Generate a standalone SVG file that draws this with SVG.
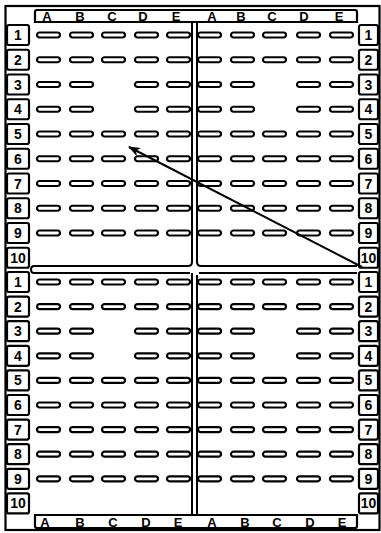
<svg xmlns="http://www.w3.org/2000/svg" width="381" height="533" viewBox="0 0 381 533">
<defs>
<style>
.fr{fill:none;stroke:#000;stroke-width:2.2}
.ln{fill:none;stroke:#000;stroke-width:2}
.lb{fill:#fff;stroke:#000;stroke-width:2.2}
.d{fill:#fff;stroke:#000;stroke-width:2.2}
.t{font-family:"Liberation Sans",Arial,sans-serif;font-weight:bold;font-size:14px;text-anchor:middle;fill:#000}
.h{font-family:"Liberation Sans",Arial,sans-serif;font-weight:bold;font-size:13px;text-anchor:middle;fill:#000}
</style>
<rect id="dash" width="23" height="5" rx="2.5"/>
<marker id="ah" markerWidth="12" markerHeight="9" refX="11" refY="4.5" orient="auto" markerUnits="userSpaceOnUse">
<path d="M0,0 L12,4.5 L0,9 L3,4.5 Z" fill="#000"/>
</marker>
</defs>
<rect width="381" height="533" fill="#fff"/>
<g id="frame">
<rect class="fr" x="5.5" y="6" width="374" height="524"/>
<path class="fr" d="M35,22 V12 Q35,10 37,10 H355 Q357,10 357,12 V22 Z"/>
<path class="fr" d="M35,515 V526 Q35,528 37,528 H355 Q357,528 357,526 V515 Z"/>
<path class="ln" d="M192,22 V262 Q192,266 188,266 H34 Q31,266 31,269.5 Q31,273 34,273 H190 M192,273 V515"/>
<path class="ln" d="M197,22 V262 Q197,266 201,266 H357 M199,273 H357 M197,275 V515"/>
</g>
<g id="header-top">
<text class="h" x="47" y="21">A</text><text class="h" x="80" y="21">B</text><text class="h" x="112" y="21">C</text><text class="h" x="143" y="21">D</text><text class="h" x="176" y="21">E</text>
<text class="h" x="212" y="21">A</text><text class="h" x="241" y="21">B</text><text class="h" x="272" y="21">C</text><text class="h" x="304" y="21">D</text><text class="h" x="339" y="21">E</text>
</g>
<g id="header-bottom">
<text class="h" x="45" y="527">A</text><text class="h" x="80" y="527">B</text><text class="h" x="113" y="527">C</text><text class="h" x="146" y="527">D</text><text class="h" x="178" y="527">E</text>
<text class="h" x="212" y="527">A</text><text class="h" x="245" y="527">B</text><text class="h" x="277" y="527">C</text><text class="h" x="310" y="527">D</text><text class="h" x="342" y="527">E</text>
</g>
<g id="row-labels-left">
<rect class="lb" x="7" y="25" width="22" height="20" rx="2"/><text class="t" x="18" y="40">1</text>
<rect class="lb" x="7" y="49.75" width="22" height="20" rx="2"/><text class="t" x="18" y="64.75">2</text>
<rect class="lb" x="7" y="74.5" width="22" height="20" rx="2"/><text class="t" x="18" y="89.5">3</text>
<rect class="lb" x="7" y="99.25" width="22" height="20" rx="2"/><text class="t" x="18" y="114.25">4</text>
<rect class="lb" x="7" y="124" width="22" height="20" rx="2"/><text class="t" x="18" y="139">5</text>
<rect class="lb" x="7" y="148.75" width="22" height="20" rx="2"/><text class="t" x="18" y="163.75">6</text>
<rect class="lb" x="7" y="173.5" width="22" height="20" rx="2"/><text class="t" x="18" y="188.5">7</text>
<rect class="lb" x="7" y="198.25" width="22" height="20" rx="2"/><text class="t" x="18" y="213.25">8</text>
<rect class="lb" x="7" y="223" width="22" height="20" rx="2"/><text class="t" x="18" y="238">9</text>
<rect class="lb" x="7" y="247.75" width="22" height="20" rx="2"/><text class="t" x="18" y="262.75">10</text>
<rect class="lb" x="7" y="272" width="22" height="20" rx="2"/><text class="t" x="18" y="287">1</text>
<rect class="lb" x="7" y="296.6" width="22" height="20" rx="2"/><text class="t" x="18" y="311.6">2</text>
<rect class="lb" x="7" y="321.2" width="22" height="20" rx="2"/><text class="t" x="18" y="336.2">3</text>
<rect class="lb" x="7" y="345.8" width="22" height="20" rx="2"/><text class="t" x="18" y="360.8">4</text>
<rect class="lb" x="7" y="370.4" width="22" height="20" rx="2"/><text class="t" x="18" y="385.4">5</text>
<rect class="lb" x="7" y="395" width="22" height="20" rx="2"/><text class="t" x="18" y="410">6</text>
<rect class="lb" x="7" y="419.6" width="22" height="20" rx="2"/><text class="t" x="18" y="434.6">7</text>
<rect class="lb" x="7" y="444.2" width="22" height="20" rx="2"/><text class="t" x="18" y="459.2">8</text>
<rect class="lb" x="7" y="468.8" width="22" height="20" rx="2"/><text class="t" x="18" y="483.8">9</text>
<rect class="lb" x="7" y="493.4" width="22" height="20" rx="2"/><text class="t" x="18" y="508.4">10</text>
</g>
<g id="row-labels-right">
<rect class="lb" x="359" y="25" width="19" height="20" rx="2"/><text class="t" x="368.5" y="40">1</text>
<rect class="lb" x="359" y="49.75" width="19" height="20" rx="2"/><text class="t" x="368.5" y="64.75">2</text>
<rect class="lb" x="359" y="74.5" width="19" height="20" rx="2"/><text class="t" x="368.5" y="89.5">3</text>
<rect class="lb" x="359" y="99.25" width="19" height="20" rx="2"/><text class="t" x="368.5" y="114.25">4</text>
<rect class="lb" x="359" y="124" width="19" height="20" rx="2"/><text class="t" x="368.5" y="139">5</text>
<rect class="lb" x="359" y="148.75" width="19" height="20" rx="2"/><text class="t" x="368.5" y="163.75">6</text>
<rect class="lb" x="359" y="173.5" width="19" height="20" rx="2"/><text class="t" x="368.5" y="188.5">7</text>
<rect class="lb" x="359" y="198.25" width="19" height="20" rx="2"/><text class="t" x="368.5" y="213.25">8</text>
<rect class="lb" x="359" y="223" width="19" height="20" rx="2"/><text class="t" x="368.5" y="238">9</text>
<rect class="lb" x="359" y="247.75" width="19" height="20" rx="2"/><text class="t" x="368.5" y="262.75">10</text>
<rect class="lb" x="359" y="272" width="19" height="20" rx="2"/><text class="t" x="368.5" y="287">1</text>
<rect class="lb" x="359" y="296.6" width="19" height="20" rx="2"/><text class="t" x="368.5" y="311.6">2</text>
<rect class="lb" x="359" y="321.2" width="19" height="20" rx="2"/><text class="t" x="368.5" y="336.2">3</text>
<rect class="lb" x="359" y="345.8" width="19" height="20" rx="2"/><text class="t" x="368.5" y="360.8">4</text>
<rect class="lb" x="359" y="370.4" width="19" height="20" rx="2"/><text class="t" x="368.5" y="385.4">5</text>
<rect class="lb" x="359" y="395" width="19" height="20" rx="2"/><text class="t" x="368.5" y="410">6</text>
<rect class="lb" x="359" y="419.6" width="19" height="20" rx="2"/><text class="t" x="368.5" y="434.6">7</text>
<rect class="lb" x="359" y="444.2" width="19" height="20" rx="2"/><text class="t" x="368.5" y="459.2">8</text>
<rect class="lb" x="359" y="468.8" width="19" height="20" rx="2"/><text class="t" x="368.5" y="483.8">9</text>
<rect class="lb" x="359" y="493.4" width="19" height="20" rx="2"/><text class="t" x="368.5" y="508.4">10</text>
</g>
<g id="seats-top-left" class="d">
<use href="#dash" x="37" y="32.5"/><use href="#dash" x="70" y="32.5"/><use href="#dash" x="102" y="32.5"/><use href="#dash" x="135" y="32.5"/><use href="#dash" x="167" y="32.5"/>
<use href="#dash" x="37" y="57.25"/><use href="#dash" x="70" y="57.25"/><use href="#dash" x="102" y="57.25"/><use href="#dash" x="135" y="57.25"/><use href="#dash" x="167" y="57.25"/>
<use href="#dash" x="37" y="82"/><use href="#dash" x="70" y="82"/><use href="#dash" x="135" y="82"/><use href="#dash" x="167" y="82"/>
<use href="#dash" x="37" y="106.75"/><use href="#dash" x="70" y="106.75"/><use href="#dash" x="135" y="106.75"/><use href="#dash" x="167" y="106.75"/>
<use href="#dash" x="37" y="131.5"/><use href="#dash" x="70" y="131.5"/><use href="#dash" x="102" y="131.5"/><use href="#dash" x="135" y="131.5"/><use href="#dash" x="167" y="131.5"/>
<use href="#dash" x="37" y="156.25"/><use href="#dash" x="70" y="156.25"/><use href="#dash" x="102" y="156.25"/><use href="#dash" x="135" y="156.25"/><use href="#dash" x="167" y="156.25"/>
<use href="#dash" x="37" y="181"/><use href="#dash" x="70" y="181"/><use href="#dash" x="102" y="181"/><use href="#dash" x="135" y="181"/><use href="#dash" x="167" y="181"/>
<use href="#dash" x="37" y="205.75"/><use href="#dash" x="70" y="205.75"/><use href="#dash" x="102" y="205.75"/><use href="#dash" x="135" y="205.75"/><use href="#dash" x="167" y="205.75"/>
<use href="#dash" x="37" y="230.5"/><use href="#dash" x="70" y="230.5"/><use href="#dash" x="102" y="230.5"/><use href="#dash" x="135" y="230.5"/><use href="#dash" x="167" y="230.5"/>
</g>
<g id="seats-top-right" class="d">
<use href="#dash" x="198" y="32.5"/><use href="#dash" x="231" y="32.5"/><use href="#dash" x="263" y="32.5"/><use href="#dash" x="297" y="32.5"/><use href="#dash" x="330" y="32.5"/>
<use href="#dash" x="198" y="57.25"/><use href="#dash" x="231" y="57.25"/><use href="#dash" x="263" y="57.25"/><use href="#dash" x="297" y="57.25"/><use href="#dash" x="330" y="57.25"/>
<use href="#dash" x="198" y="82"/><use href="#dash" x="231" y="82"/><use href="#dash" x="297" y="82"/><use href="#dash" x="330" y="82"/>
<use href="#dash" x="198" y="106.75"/><use href="#dash" x="231" y="106.75"/><use href="#dash" x="297" y="106.75"/><use href="#dash" x="330" y="106.75"/>
<use href="#dash" x="198" y="131.5"/><use href="#dash" x="231" y="131.5"/><use href="#dash" x="263" y="131.5"/><use href="#dash" x="297" y="131.5"/><use href="#dash" x="330" y="131.5"/>
<use href="#dash" x="198" y="156.25"/><use href="#dash" x="231" y="156.25"/><use href="#dash" x="263" y="156.25"/><use href="#dash" x="297" y="156.25"/><use href="#dash" x="330" y="156.25"/>
<use href="#dash" x="198" y="181"/><use href="#dash" x="231" y="181"/><use href="#dash" x="263" y="181"/><use href="#dash" x="297" y="181"/><use href="#dash" x="330" y="181"/>
<use href="#dash" x="198" y="205.75"/><use href="#dash" x="231" y="205.75"/><use href="#dash" x="263" y="205.75"/><use href="#dash" x="297" y="205.75"/><use href="#dash" x="330" y="205.75"/>
<use href="#dash" x="198" y="230.5"/><use href="#dash" x="231" y="230.5"/><use href="#dash" x="263" y="230.5"/><use href="#dash" x="297" y="230.5"/><use href="#dash" x="330" y="230.5"/>
</g>
<g id="seats-bottom-left" class="d">
<use href="#dash" x="37" y="279.5"/><use href="#dash" x="70" y="279.5"/><use href="#dash" x="102" y="279.5"/><use href="#dash" x="135" y="279.5"/><use href="#dash" x="167" y="279.5"/>
<use href="#dash" x="37" y="304.1"/><use href="#dash" x="70" y="304.1"/><use href="#dash" x="102" y="304.1"/><use href="#dash" x="135" y="304.1"/><use href="#dash" x="167" y="304.1"/>
<use href="#dash" x="37" y="328.7"/><use href="#dash" x="70" y="328.7"/><use href="#dash" x="135" y="328.7"/><use href="#dash" x="167" y="328.7"/>
<use href="#dash" x="37" y="353.3"/><use href="#dash" x="70" y="353.3"/><use href="#dash" x="135" y="353.3"/><use href="#dash" x="167" y="353.3"/>
<use href="#dash" x="37" y="377.9"/><use href="#dash" x="70" y="377.9"/><use href="#dash" x="102" y="377.9"/><use href="#dash" x="135" y="377.9"/><use href="#dash" x="167" y="377.9"/>
<use href="#dash" x="37" y="402.5"/><use href="#dash" x="70" y="402.5"/><use href="#dash" x="102" y="402.5"/><use href="#dash" x="135" y="402.5"/><use href="#dash" x="167" y="402.5"/>
<use href="#dash" x="37" y="427.1"/><use href="#dash" x="70" y="427.1"/><use href="#dash" x="102" y="427.1"/><use href="#dash" x="135" y="427.1"/><use href="#dash" x="167" y="427.1"/>
<use href="#dash" x="37" y="451.7"/><use href="#dash" x="70" y="451.7"/><use href="#dash" x="102" y="451.7"/><use href="#dash" x="135" y="451.7"/><use href="#dash" x="167" y="451.7"/>
<use href="#dash" x="37" y="476.3"/><use href="#dash" x="70" y="476.3"/><use href="#dash" x="102" y="476.3"/><use href="#dash" x="135" y="476.3"/><use href="#dash" x="167" y="476.3"/>
</g>
<g id="seats-bottom-right" class="d">
<use href="#dash" x="198" y="279.5"/><use href="#dash" x="231" y="279.5"/><use href="#dash" x="263" y="279.5"/><use href="#dash" x="297" y="279.5"/><use href="#dash" x="330" y="279.5"/>
<use href="#dash" x="198" y="304.1"/><use href="#dash" x="231" y="304.1"/><use href="#dash" x="263" y="304.1"/><use href="#dash" x="297" y="304.1"/><use href="#dash" x="330" y="304.1"/>
<use href="#dash" x="198" y="328.7"/><use href="#dash" x="231" y="328.7"/><use href="#dash" x="297" y="328.7"/><use href="#dash" x="330" y="328.7"/>
<use href="#dash" x="198" y="353.3"/><use href="#dash" x="231" y="353.3"/><use href="#dash" x="297" y="353.3"/><use href="#dash" x="330" y="353.3"/>
<use href="#dash" x="198" y="377.9"/><use href="#dash" x="231" y="377.9"/><use href="#dash" x="263" y="377.9"/><use href="#dash" x="297" y="377.9"/><use href="#dash" x="330" y="377.9"/>
<use href="#dash" x="198" y="402.5"/><use href="#dash" x="231" y="402.5"/><use href="#dash" x="263" y="402.5"/><use href="#dash" x="297" y="402.5"/><use href="#dash" x="330" y="402.5"/>
<use href="#dash" x="198" y="427.1"/><use href="#dash" x="231" y="427.1"/><use href="#dash" x="263" y="427.1"/><use href="#dash" x="297" y="427.1"/><use href="#dash" x="330" y="427.1"/>
<use href="#dash" x="198" y="451.7"/><use href="#dash" x="231" y="451.7"/><use href="#dash" x="263" y="451.7"/><use href="#dash" x="297" y="451.7"/><use href="#dash" x="330" y="451.7"/>
<use href="#dash" x="198" y="476.3"/><use href="#dash" x="231" y="476.3"/><use href="#dash" x="263" y="476.3"/><use href="#dash" x="297" y="476.3"/><use href="#dash" x="330" y="476.3"/>
</g>
<g id="connectors">
<line x1="362" y1="267" x2="129" y2="147" stroke="#000" stroke-width="2" marker-end="url(#ah)"/>
</g>
</svg>
